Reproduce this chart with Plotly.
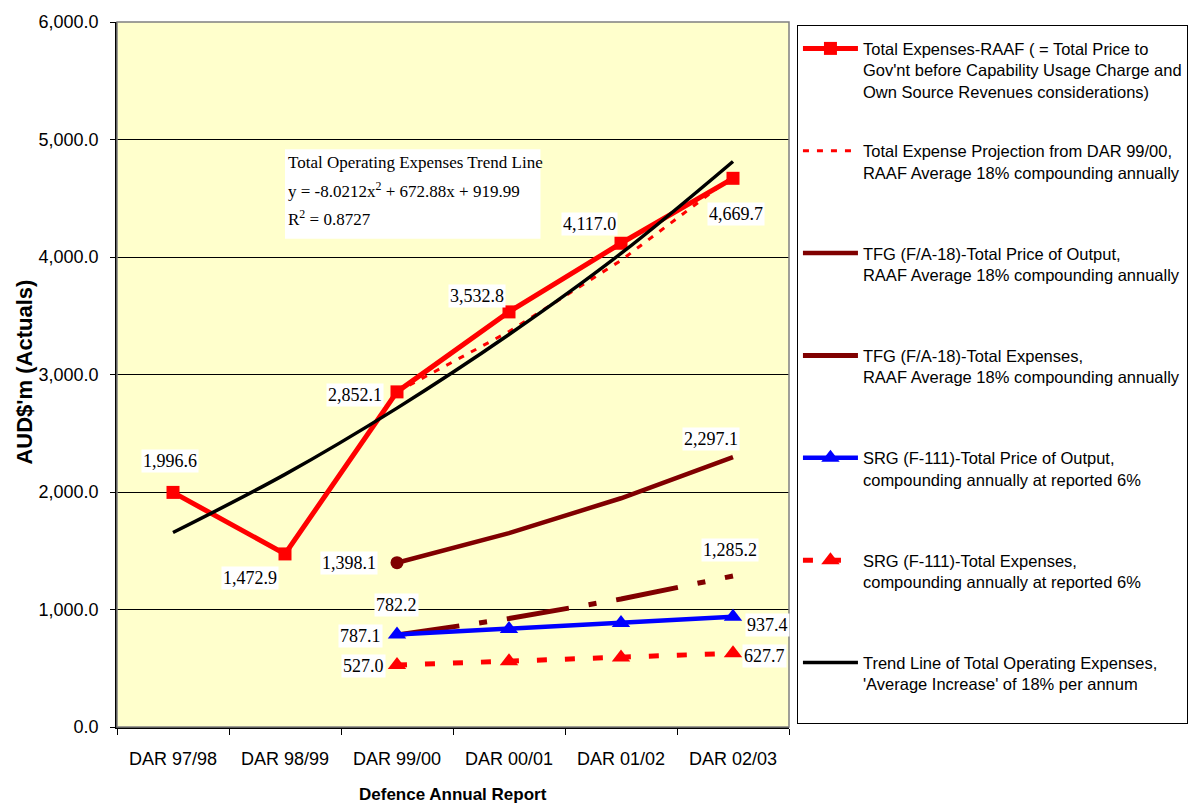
import plotly.graph_objects as go

categories = ["DAR 97/98", "DAR 98/99", "DAR 99/00", "DAR 00/01", "DAR 01/02", "DAR 02/03"]
later_cats = categories[2:]

raaf_total = [1996.6, 1472.9, 2852.1, 3532.8, 4117.0, 4669.7]
raaf_projection = [2852.1, 3365.5, 3971.3, 4686.2]
tfg_price = [1398.1, 1649.8, 1946.7, 2297.1]
tfg_expenses = [782.2, 923.0, 1089.1, 1285.2]
srg_price = [787.1, 834.3, 884.4, 937.4]
srg_expenses = [527.0, 558.6, 592.1, 627.7]
trend_line = [1655, 2150, 2714, 3340, 4030, 4813]

y_ticks = [0, 1000, 2000, 3000, 4000, 5000, 6000]

NB = "<br>\u00a0"
names = [
    "Total Expenses-RAAF ( = Total Price to<br>Gov'nt before Capability Usage Charge and<br>Own Source Revenues considerations)",
    "Total Expense Projection from DAR 99/00,<br>RAAF Average 18% compounding annually" + NB,
    "TFG (F/A-18)-Total Price of Output,<br>RAAF Average 18% compounding annually" + NB,
    "TFG (F/A-18)-Total Expenses,<br>RAAF Average 18% compounding annually" + NB,
    "SRG (F-111)-Total Price of Output,<br>compounding annually at reported 6%" + NB,
    "SRG (F-111)-Total Expenses,<br>compounding annually at reported 6%" + NB,
    "Trend Line of Total Operating Expenses,<br>'Average Increase' of 18% per annum" + NB,
]

RED = "#FF0000"
DRED = "#800000"
BLUE = "#0000FF"

fig = go.Figure()
fig.add_trace(go.Scatter(x=categories, y=raaf_total, name=names[0], legendgroup="g1",
                         mode="lines+markers", line=dict(color=RED, width=5),
                         marker=dict(symbol="square", size=13, color=RED)))
fig.add_trace(go.Scatter(x=later_cats, y=raaf_projection, name=names[1], legendgroup="g2",
                         mode="lines", line=dict(color=RED, width=3, dash="6px,8px")))
fig.add_trace(go.Scatter(x=later_cats, y=tfg_price, name=names[2], legendgroup="g3",
                         mode="lines", line=dict(color=DRED, width=4.5)))
fig.add_trace(go.Scatter(x=later_cats[:1], y=tfg_price[:1], showlegend=False, legendgroup="g3",
                         mode="markers", marker=dict(symbol="circle", size=13, color=DRED)))
fig.add_trace(go.Scatter(x=later_cats, y=tfg_expenses, name=names[3], legendgroup="g4",
                         mode="lines", line=dict(color=DRED, width=5, dash="63px,20px,8px,20px")))
fig.add_trace(go.Scatter(x=later_cats, y=srg_price, name=names[4], legendgroup="g5",
                         mode="lines+markers", line=dict(color=BLUE, width=4.5),
                         marker=dict(symbol="triangle-up", size=16, color=BLUE)))
fig.add_trace(go.Scatter(x=later_cats, y=srg_expenses, name=names[5], legendgroup="g6",
                         mode="lines+markers", line=dict(color=RED, width=5, dash="10px,18px"),
                         marker=dict(symbol="triangle-up", size=16, color=RED)))
fig.add_trace(go.Scatter(x=categories, y=trend_line, name=names[6], legendgroup="g7",
                         mode="lines", line=dict(color="black", width=3.5, shape="spline")))

label_font = dict(family="Times New Roman, Liberation Serif, serif", size=18, color="black")

def lbl(cat, val, dx, dy):
    fig.add_annotation(x=cat, y=val, xref="x", yref="y", text=f"{val:,.1f}", showarrow=False,
                       xshift=dx, yshift=-dy, bgcolor="white", font=label_font, borderpad=1)

shifts_total = [(-3, -31), (-35, 24), (-42, 3), (-32, -16), (-32, -19), (3, 36)]
for c, v, (dx, dy) in zip(categories, raaf_total, shifts_total):
    lbl(c, v, dx, dy)
lbl(later_cats[0], tfg_price[0], -48, 0)
lbl(later_cats[-1], tfg_price[-1], -22, -18)
lbl(later_cats[0], tfg_expenses[0], -1, -30)
lbl(later_cats[-1], tfg_expenses[-1], -3, -26)
lbl(later_cats[0], srg_price[0], -37, 1)
lbl(later_cats[-1], srg_price[-1], 34, 8)
lbl(later_cats[0], srg_expenses[0], -34, 1)
lbl(later_cats[-1], srg_expenses[-1], 31, 3)

# plot-area geometry
L, R, T, B = 117, 793, 18, 727
W, H = 1200, 808
def px(xp):
    return (xp - L) / (R - L)
def py(yp):
    return (B - yp) / (B - T)

# trend equation box
fig.add_shape(type="rect", xref="paper", yref="paper", x0=px(286), x1=px(543), y0=py(236), y1=py(146),
              fillcolor="white", line=dict(width=0), layer="above")
eq_font = dict(family="Times New Roman, Liberation Serif, serif", size=17, color="black")
for txt, yy in [("Total Operating Expenses Trend Line", 159),
                ("y = -8.0212x<sup>2</sup> + 672.88x + 919.99", 187),
                ("R<sup>2</sup> = 0.8727", 215)]:
    fig.add_annotation(x=px(287), y=py(yy), xref="paper", yref="paper", text=txt, showarrow=False,
                       xanchor="left", yanchor="middle", font=eq_font)

# plot border (gray right side)
fig.add_shape(type="rect", xref="paper", yref="paper", x0=0, x1=1, y0=0, y1=1,
              line=dict(color="#808080", width=1.5), layer="above")

axis_font = dict(family="Arial, Liberation Sans, sans-serif", size=18, color="black")
fig.add_annotation(x=px(23), y=py(370), xref="paper", yref="paper", text="<b>AUD$'m (Actuals)</b>",
                   textangle=-90, showarrow=False, xanchor="center", yanchor="middle",
                   font=dict(family="Arial, Liberation Sans, sans-serif", size=22))
fig.add_annotation(x=px(455), y=py(795), xref="paper", yref="paper", text="<b>Defence Annual Report</b>",
                   showarrow=False, xanchor="center", yanchor="middle",
                   font=dict(family="Arial, Liberation Sans, sans-serif", size=17))

fig.update_layout(
    width=W, height=H,
    margin=dict(l=L, r=W - R, t=T, b=H - B),
    paper_bgcolor="white",
    plot_bgcolor="#FFFFCC",
    font=dict(family="Arial, Liberation Sans, sans-serif", color="black"),
    showlegend=True,
    legend=dict(x=px(801), y=py(21), xanchor="left", yanchor="top", bgcolor="white",
                bordercolor="black", borderwidth=1, font=dict(size=16.5, family="Arial, Liberation Sans, sans-serif"),
                title=dict(text="\u00a0", font=dict(size=4)),
                valign="top", tracegroupgap=35, itemwidth=55, traceorder="grouped"),
    xaxis=dict(type="category", categoryorder="array", categoryarray=categories,
               range=[-0.5, 5.5], showgrid=False, showline=True, linecolor="black", linewidth=1.5,
               ticks="outside", tickson="boundaries", ticklen=6, tickcolor="black",
               tickfont=axis_font, ticklabelstandoff=15, zeroline=False),
    yaxis=dict(range=[0, 6000], tickvals=y_ticks, tickformat=",.1f", showgrid=True,
               gridcolor="black", gridwidth=1, showline=True, linecolor="black", linewidth=1.5,
               ticks="outside", ticklen=5, tickcolor="black", tickfont=axis_font,
               ticklabelstandoff=8, zeroline=False),
)

fig.write_html("out.html")
